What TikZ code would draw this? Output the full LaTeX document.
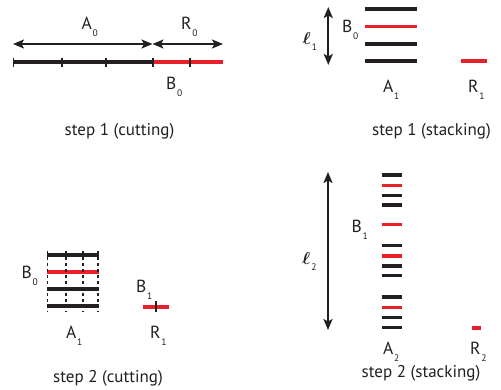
\documentclass[tikz,border=0pt]{standalone}
\usepackage{fontspec}
\setmainfont{PT Sans}
\usetikzlibrary{arrows.meta}
\definecolor{ink}{HTML}{231F20}
\definecolor{cut}{HTML}{E8202A}
\newcommand\subl[2]{#1\kern0.8pt\raisebox{-7pt}{\fontsize{9.5}{9.5}\selectfont #2}}
\newcommand\ellsub[1]{{\boldmath$\ell$}\kern1pt\raisebox{-6pt}{\fontsize{9.5}{9.5}\selectfont #1}}
\tikzset{
  lab/.style={font=\fontsize{17.5}{17.5}\selectfont, inner sep=0pt, anchor=base west, text=ink},
  caption/.style={font=\fontsize{17}{17}\selectfont, inner sep=0pt, anchor=base, text=ink},
  dim/.style={draw=ink, line width=1.9pt, {Stealth[length=11pt,width=9pt,inset=2.5pt]}-{Stealth[length=11pt,width=9pt,inset=2.5pt]}},
  bar/.style={line width=4pt},
  strip/.style={line width=3.6pt},
  tick/.style={draw=ink, line width=1.5pt},
  guide/.style={draw=ink, line width=1.7pt, dash pattern=on 3.5pt off 2.5pt},
}
\begin{document}
\begin{tikzpicture}[x=1pt,y=-1pt]
\useasboundingbox (0,0) rectangle (501,390);

% ---------- step 1 (cutting) ----------
\coordinate (a0l) at (13,44);
\coordinate (a0r) at (152.5,44);
\coordinate (r0r) at (223,44);
\draw[dim] (a0l) -- (a0r);
\draw[dim] (a0r) -- (r0r);
\draw[bar, ink] (13,62.5) -- (153,62.5);
\draw[bar, cut] (153,62.5) -- (223,62.5);
\foreach \x in {13.7,62,106,153,190}
  \draw[tick] (\x,58) -- (\x,67);
\node[lab] (A0) at (81.5,29.5) {\subl{A}{0}};
\node[lab] (R0) at (181,29.5) {\subl{R}{0}};
\node[lab] (B0a) at (166,90) {\subl{B}{0}};
\node[caption] (c1) at (119.5,135.7) {step 1 (cutting)};

% ---------- step 1 (stacking) ----------
\coordinate (l1t) at (328.3,7);
\coordinate (l1b) at (328.3,65);
\draw[dim] (l1t) -- (l1b);
\draw[strip, ink] (365,9) -- (417,9);
\draw[strip, cut] (365,26.5) -- (417,26.5);
\draw[strip, ink] (365,44) -- (417,44);
\draw[strip, ink] (365,61) -- (417,61);
\draw[strip, cut] (461,61) -- (487,61);
\node[lab] (l1) at (302.5,45) {\ellsub{1}};
\node[lab] (B0b) at (342,33) {\subl{B}{0}};
\node[lab] (A1a) at (383,93) {\subl{A}{1}};
\node[lab] (R1a) at (468,93) {\subl{R}{1}};
\node[caption] (c2) at (431.5,135.7) {step 1 (stacking)};

% ---------- step 2 (cutting) ----------
\draw[strip, ink] (46.7,255) -- (99,255);
\draw[strip, cut] (46.7,272.3) -- (99,272.3);
\draw[strip, ink] (46.7,289.3) -- (99,289.3);
\draw[strip, ink] (46.7,306) -- (99,306);
\foreach \x in {47.4,65.7,83.3,98.3}
  \draw[guide] (\x,251) -- (\x,312);
\draw[strip, cut] (143,307) -- (169,307);
\draw[tick] (156,301) -- (156,312.5);
\node[lab] (B0c) at (21.5,279) {\subl{B}{0}};
\node[lab] (B1a) at (136,293) {\subl{B}{1}};
\node[lab] (A1b) at (66,338) {\subl{A}{1}};
\node[lab] (R1b) at (150,338) {\subl{R}{1}};
\node[caption] (c3) at (108,382) {step 2 (cutting)};

% ---------- step 2 (stacking) ----------
\coordinate (l2t) at (328,172);
\coordinate (l2b) at (328,330);
\draw[dim] (l2t) -- (l2b);
\foreach \y/\c in {175/ink,185.7/cut,195.3/ink,205/ink,224.3/cut,245.3/ink,256/cut,266/ink,275.3/ink,297/ink,307.7/cut,317.3/ink,327.3/ink}
  \draw[line width=3.3pt, \c] (381.7,\y) -- (401.7,\y);
\draw[line width=3.3pt, cut] (472,328) -- (480.5,328);
\node[lab] (l2) at (302,265) {\ellsub{2}};
\node[lab] (B1b) at (351.5,232.7) {\subl{B}{1}};
\node[lab] (A2) at (383,354) {\subl{A}{2}};
\node[lab] (R2) at (470,354) {\subl{R}{2}};
\node[caption] (c4) at (421,377) {step 2 (stacking)};
\end{tikzpicture}
\end{document}
